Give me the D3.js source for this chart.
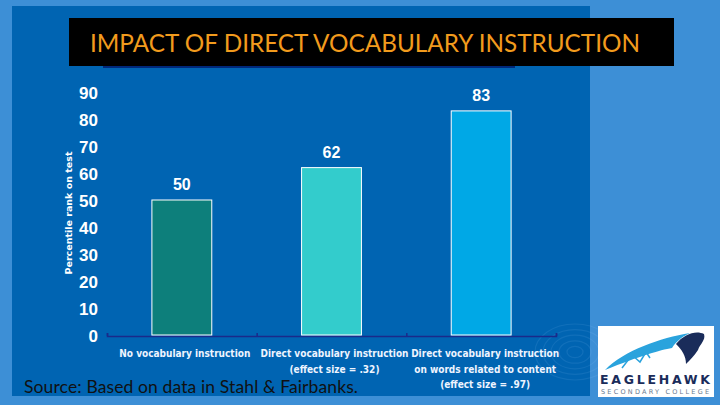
<!DOCTYPE html>
<html><head><meta charset="utf-8">
<script src="https://cdn.jsdelivr.net/npm/d3@7"></script>
<style>html,body{margin:0;padding:0;background:#3d8fd6;}svg{display:block;}</style>
</head><body>
<svg id="c" width="720" height="405"></svg>
<script>
const categories = ["No vocabulary instruction", "Direct vocabulary instruction|(effect size = .32)", "Direct vocabulary instruction|on words related to content|(effect size = .97)"];
const values = [50, 62, 83];
const barColors = ["#0d7f7b", "#33cccc", "#00a8e6"];
const yTicks = [0,10,20,30,40,50,60,70,80,90];
const title = "IMPACT OF DIRECT VOCABULARY INSTRUCTION";
const yLabel = "Percentile rank on test";
const source = "Source: Based on data in Stahl & Fairbanks.";

const svg = d3.select("#c");
svg.append("rect").attr("width",720).attr("height",405).attr("fill","#3d8fd6");
svg.append("rect").attr("x",12).attr("y",6).attr("width",578).attr("height",390).attr("fill","#0064b2");

// ripple decoration
const rip = svg.append("g").attr("opacity",0.1);
[8,16,24,32,40].forEach(r=>rip.append("ellipse").attr("cx",575).attr("cy",352).attr("rx",r).attr("ry",r*0.7).attr("fill","none").attr("stroke","#9fd0ff").attr("stroke-width",1.2));

// title
svg.append("rect").attr("x",103).attr("y",64).attr("width",412).attr("height",4).attr("fill","#00287a");
svg.append("rect").attr("x",69).attr("y",18).attr("width",605).attr("height",48).attr("fill","#000");
svg.append("text").attr("x",90).attr("y",52).attr("fill","#f29b1d")
  .attr("font-family","Lato").attr("font-size",25).attr("textLength",550).attr("lengthAdjust","spacingAndGlyphs").text(title);

const y = d3.scaleLinear().domain([0,90]).range([335,92]);
const x = d3.scaleBand().domain(categories).range([107,556]).paddingInner(0.6).paddingOuter(0.3);

// y tick labels
const ya = svg.append("g").attr("transform","translate(98,0)")
  .call(d3.axisLeft(y).tickValues(yTicks).tickSize(0).tickPadding(0));
ya.select(".domain").remove();
ya.selectAll("text").attr("fill","#fff").attr("font-family","Liberation Sans, Arial").attr("font-weight","bold").attr("font-size",17).attr("dy","0.36em");

svg.append("text").attr("transform","translate(72,213) rotate(-90)").attr("text-anchor","middle")
  .attr("fill","#fff").attr("font-family","DejaVu Sans").attr("font-weight","bold").attr("font-size",9.5).text(yLabel);

// x axis
const xa = svg.append("g").attr("transform","translate(0,336)")
  .call(d3.axisBottom(d3.scaleLinear().domain([0,3]).range([107,556])).tickValues([0,1,2,3]).tickSize(-3).tickFormat(""));
xa.selectAll("path,line").attr("stroke","#1a2a8a").attr("stroke-width",1.5);

// bars
svg.selectAll("rect.bar").data(values).enter().append("rect").attr("class","bar")
  .attr("x",(d,i)=>x(categories[i])).attr("y",d=>y(d)).attr("width",x.bandwidth()).attr("height",d=>y(0)-y(d))
  .attr("fill",(d,i)=>barColors[i]).attr("stroke","#fff").attr("stroke-width",1);

svg.selectAll("text.val").data(values).enter().append("text").attr("class","val")
  .attr("x",(d,i)=>x(categories[i])+x.bandwidth()/2).attr("y",d=>y(d)-10).attr("text-anchor","middle")
  .attr("fill","#fff").attr("font-family","Liberation Sans, Arial").attr("font-weight","bold").attr("font-size",16).text(d=>d);

// category labels
const offs = [3,3,4];
categories.forEach((c,i)=>{
  const lines = c.split("|");
  const cx = x(c)+x.bandwidth()/2+offs[i];
  lines.forEach((l,j)=>{
    svg.append("text").attr("x",cx).attr("y",357+j*15.5).attr("text-anchor","middle")
      .attr("fill","#eef4ff").attr("font-family","DejaVu Sans Condensed, DejaVu Sans").attr("font-weight","bold").attr("font-size",10).text(l);
  });
});

// source
svg.append("text").attr("x",24).attr("y",393).attr("fill","#111").attr("font-family","Lato").attr("font-size",17.5).attr("textLength",334).text(source);

// logo
const lg = svg.append("g");
lg.append("rect").attr("x",598).attr("y",326).attr("width",116).attr("height",71).attr("fill","#fff");
lg.append("path").attr("d","M605,370 C625,350 660,338 690,333 C680,338 676,342 672,348 C660,350 640,356 605,370 Z").attr("fill","#2aa3dd");
lg.append("path").attr("d","M622,368 L632,355 L640,362 L646,352 L650,358").attr("fill","none").attr("stroke","#2aa3dd").attr("stroke-width",1.5);
lg.append("path").attr("d","M676,344 C684,334 696,330 704,334 C706,340 700,344 698,350 C694,356 690,360 686,364 C686,356 682,350 676,344 Z").attr("fill","#1a2c5a");
lg.append("text").attr("x",600).attr("y",384).attr("fill","#1a2c5a").attr("font-family","DejaVu Sans").attr("font-weight","bold").attr("font-size",12.5).attr("textLength",110).text("EAGLEHAWK");
lg.append("text").attr("x",601).attr("y",394).attr("fill","#6a7a90").attr("font-family","DejaVu Sans").attr("font-size",6.5).attr("textLength",108).text("SECONDARY COLLEGE");
</script>
</body></html>
